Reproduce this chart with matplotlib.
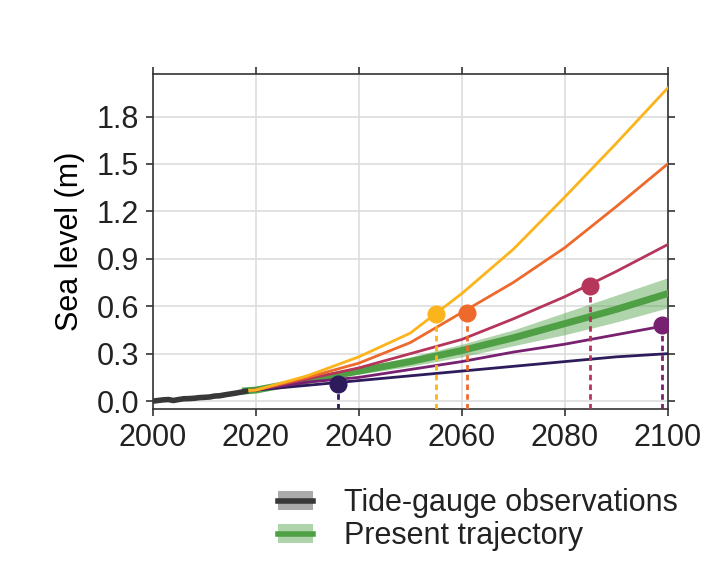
import numpy as np
import matplotlib.pyplot as plt
from matplotlib.lines import Line2D
from matplotlib.patches import Patch

plt.rcParams['font.family'] = ['Liberation Sans', 'DejaVu Sans']
plt.rcParams['text.color'] = '#222222'

# tide-gauge observations (m)
obs_years = [2000, 2001, 2002, 2003, 2004, 2005, 2006, 2007, 2008, 2009,
             2010, 2011, 2012, 2013, 2014, 2015, 2016, 2017, 2018]
obs_level = [0.000, 0.004, 0.008, 0.010, 0.004, 0.010, 0.015, 0.016, 0.018, 0.022,
             0.024, 0.026, 0.032, 0.034, 0.040, 0.045, 0.050, 0.056, 0.062]

# scenario projections (m)
proj_years = [2018, 2020, 2030, 2040, 2050, 2060, 2070, 2080, 2090, 2100]
scen_colors = ['#2d1b5c', '#782170', '#b5365a', '#ee6a2c', '#fbb41b']
scen_levels = [
    [0.065, 0.07, 0.10, 0.13, 0.16, 0.19, 0.22, 0.25, 0.28, 0.30],
    [0.065, 0.07, 0.12, 0.15, 0.20, 0.25, 0.31, 0.36, 0.42, 0.48],
    [0.065, 0.07, 0.14, 0.21, 0.30, 0.39, 0.52, 0.66, 0.82, 0.99],
    [0.065, 0.07, 0.15, 0.24, 0.37, 0.56, 0.75, 0.97, 1.23, 1.50],
    [0.065, 0.07, 0.16, 0.28, 0.43, 0.68, 0.96, 1.29, 1.63, 1.98],
]
# year each scenario reaches the threshold, and the level there
cross_years = [2036, 2099, 2085, 2061, 2055]
cross_levels = [0.11, 0.48, 0.73, 0.56, 0.55]

# present trajectory with likely range
traj_level = [0.065, 0.07, 0.13, 0.19, 0.25, 0.32, 0.40, 0.49, 0.58, 0.68]
traj_low = [0.065, 0.068, 0.12, 0.17, 0.22, 0.28, 0.35, 0.42, 0.50, 0.59]
traj_high = [0.065, 0.072, 0.14, 0.21, 0.28, 0.36, 0.45, 0.56, 0.67, 0.78]

green = '#4f9f45'

fig = plt.figure(figsize=(7.21, 5.86), dpi=100)
ax = fig.add_axes([0.212, 0.302, 0.714, 0.572])

ax.fill_between(proj_years, traj_low, traj_high, color=green, alpha=0.45, lw=0, zorder=2)
ax.plot(proj_years, traj_level, color=green, lw=5, zorder=3)

for lev, col in zip(scen_levels, scen_colors):
    ax.plot(proj_years, lev, color=col, lw=2, zorder=4)

ax.plot(obs_years, obs_level, color='#383838', lw=4, zorder=5)

ymin = -0.05
for yr, lev, col in zip(cross_years, cross_levels, scen_colors):
    ax.plot([yr, yr], [ymin, lev], color=col, lw=2, ls=(0, (2, 1.5)), zorder=4)
    ax.plot(yr, lev, 'o', color=col, ms=12, zorder=6)

ax.set_xlim(2000, 2100)
ax.set_ylim(ymin, 2.07)
ax.set_xticks([2000, 2020, 2040, 2060, 2080, 2100])
ax.set_yticks(np.arange(0, 1.81, 0.3))
ax.yaxis.set_major_formatter(plt.FormatStrFormatter('%.1f'))
ax.grid(color='#dddddd', lw=1.2)
ax.set_axisbelow(True)
ax.tick_params(labelsize=22, direction='out', length=5, width=1.2,
               top=True, right=True, color='#333333', labelcolor='#222222', pad=5)
for s in ax.spines.values():
    s.set_color('#333333')
    s.set_linewidth(1.2)
ax.set_ylabel('Sea level (m)', fontsize=22, labelpad=8)

handles = [
    (Patch(facecolor='#aaaaaa', edgecolor='none'), Line2D([], [], color='#383838', lw=4)),
    (Patch(facecolor=green, alpha=0.45, edgecolor='none'), Line2D([], [], color=green, lw=4)),
]
fig.legend(handles, ['Tide-gauge observations', 'Present trajectory'],
           loc='center left', bbox_to_anchor=(0.386, 0.113), frameon=False,
           fontsize=22, handlelength=1.15, handleheight=0.6, handletextpad=1.0,
           labelspacing=0.1, borderpad=0, borderaxespad=0)

fig.savefig('out.png', dpi=100)
